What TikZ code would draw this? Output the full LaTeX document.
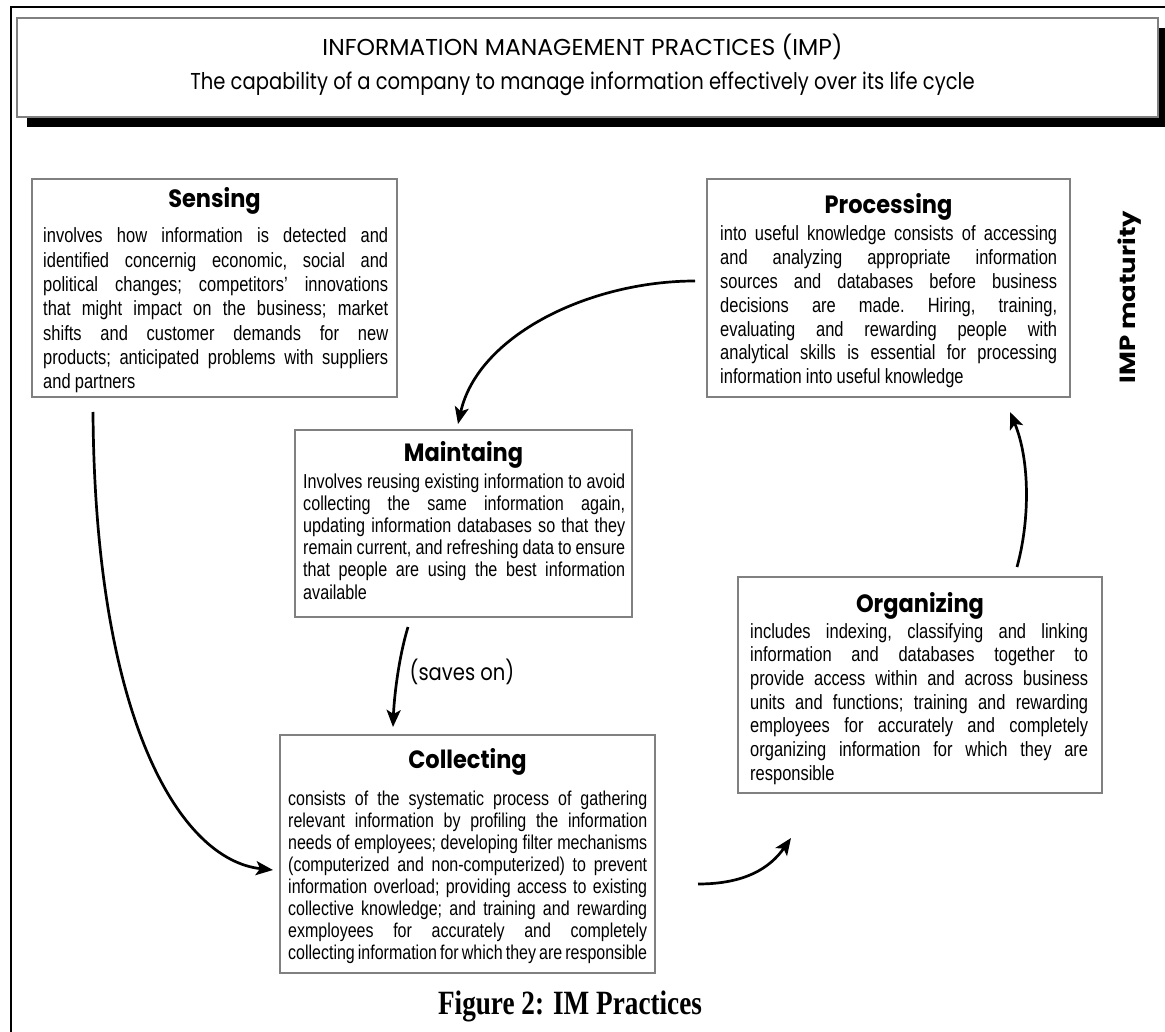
\documentclass[tikz,border=0pt]{standalone}
\usepackage{fontspec}
\usetikzlibrary{arrows.meta,calc,shadows}
\newfontfamily\bodyfont{Liberation Sans}[FakeStretch=0.8]
\newfontfamily\titlefont{Poppins}[FakeStretch=1.02]
\newfontfamily\subfont{Poppins}[FakeStretch=0.85]
\newfontfamily\headfont{Poppins}[FakeStretch=0.9]
\newfontfamily\sidefont{Poppins}[FakeStretch=1.18]
\newfontfamily\capfont{Liberation Serif}[FakeStretch=0.8]
\definecolor{boxgray}{gray}{0.5}

% a justified line, and a final (ragged) line of a paragraph
\newcommand\jline[1]{\hbox to\hsize{\frenchspacing\spaceskip=4.6pt plus 1fil minus 4pt\relax#1}}
\newcommand\lline[1]{\hbox{\frenchspacing\spaceskip=4.2pt\relax#1}}
% body text block: [font size] width, line distance, lines
\newcommand\bodytext[4][20.6]{\vtop{\hsize=#2pt\bodyfont\fontsize{#1pt}{#3pt}\selectfont#4}}

\begin{document}
\begin{tikzpicture}[x=1pt,y=-1pt,
  box/.style={draw=boxgray,line width=1.2pt,fill=white,inner sep=0pt,outer sep=0pt,anchor=north west},
  head/.style={font=\headfont\bfseries\fontsize{25pt}{30pt}\selectfont,anchor=base,inner sep=0pt},
  body/.style={anchor=base west,inner sep=0pt},
  flow/.style={line width=2.7pt,-{Stealth[length=17pt,width=14pt,inset=4pt]}},
]
\useasboundingbox (0,0) rectangle (1165,1032);
\fill[white] (0,0) rectangle (1165,1032);

% page frame
\draw[line width=2.5pt] (11,1032) -- (11,7) -- (1165,7);

% banner with its solid shadow
\node[box, minimum width=1141pt, minimum height=99pt,
      drop shadow={fill=black,opacity=1,shadow xshift=10pt,shadow yshift=-10pt}] (banner) at (17,18) {};
\node[font=\titlefont\fontsize{23pt}{28pt}\selectfont, anchor=base, inner sep=0pt] (title)
  at ($(banner.north)+(-5,38)$) {INFORMATION MANAGEMENT PRACTICES (IMP)};
\node[font=\subfont\fontsize{23pt}{28pt}\selectfont, anchor=base, inner sep=0pt] (subtitle)
  at ($(banner.north)+(-5,72)$) {The capability of a company to manage information effectively over its life cycle};

% practice boxes
\node[box, minimum width=365pt, minimum height=218pt] (sensing) at (32,179) {};
\node[box, minimum width=363pt, minimum height=218pt] (processing) at (707,179) {};
\node[box, minimum width=337pt, minimum height=187pt] (maintaing) at (295,430) {};
\node[box, minimum width=364pt, minimum height=216pt] (organizing) at (738,577) {};
\node[box, minimum width=375pt, minimum height=238pt] (collecting) at (280,735) {};

% Sensing
\node[head] (sensing-head) at ($(sensing.north)+(0,29)$) {Sensing};
\node[body] (sensing-body) at ($(sensing.north west)+(11,64)$) {\bodytext{345}{24.3}{%
  \jline{involves how information is detected and}
  \jline{identified concernig economic, social and}
  \jline{political changes; competitors’ innovations}
  \jline{that might impact on the business; market}
  \jline{shifts and customer demands for new}
  \jline{products; anticipated problems with suppliers}
  \lline{and partners}}};

% Processing
\node[head] (processing-head) at ($(processing.north)+(0,35)$) {Processing};
\node[body] (processing-body) at ($(processing.north west)+(13,62)$) {\bodytext{337}{23.8}{%
  \jline{into useful knowledge consists of accessing}
  \jline{and analyzing appropriate information}
  \jline{sources and databases before business}
  \jline{decisions are made. Hiring, training,}
  \jline{evaluating and rewarding people with}
  \jline{analytical skills is essential for processing}
  \lline{information into useful knowledge}}};

% Maintaing
\node[head] (maintaing-head) at ($(maintaing.north)+(0,31)$) {Maintaing};
\node[body] (maintaing-body) at ($(maintaing.north west)+(8,58)$) {\bodytext[20.2]{322}{22.2}{%
  \jline{Involves reusing existing information to avoid}
  \jline{collecting the same information again,}
  \jline{updating information databases so that they}
  \jline{remain current, and refreshing data to ensure}
  \jline{that people are using the best information}
  \lline{available}}};

% Organizing
\node[head] (organizing-head) at ($(organizing.north)+(0,35)$) {Organizing};
\node[body] (organizing-body) at ($(organizing.north west)+(12,61)$) {\bodytext{338}{23.7}{%
  \jline{includes indexing, classifying and linking}
  \jline{information and databases together to}
  \jline{provide access within and across business}
  \jline{units and functions; training and rewarding}
  \jline{employees for accurately and completely}
  \jline{organizing information for which they are}
  \lline{responsible}}};

% Collecting
\node[head] (collecting-head) at ($(collecting.north)+(0,33)$) {Collecting};
\node[body] (collecting-body) at ($(collecting.north west)+(8,70)$) {\bodytext[20]{359}{22}{%
  \jline{consists of the systematic process of gathering}
  \jline{relevant information by profiling the information}
  \jline{needs of employees; developing filter mechanisms}
  \jline{(computerized and non-computerized) to prevent}
  \jline{information overload; providing access to existing}
  \jline{collective knowledge; and training and rewarding}
  \jline{exmployees for accurately and completely}
  \jline{collecting information for which they are responsible}}};

% side label
\node[font=\sidefont\bfseries\fontsize{22pt}{26pt}\selectfont, rotate=90, anchor=base, inner sep=0pt]
  (maturity) at (1135,297) {IMP maturity};

% flow of the life cycle
\draw[flow] ($(sensing.south west)+(61,15)$) .. controls +(2,308) and +(-93,-10) .. ($(collecting.north west)+(-7,135)$);
\draw[flow] ($(processing.west)+(-12,-7)$) .. controls +(-105,0) and +(20,-89) .. ($(maintaing.north west)+(163,-6)$);
\draw[flow] ($(maintaing.south west)+(113,10)$) .. controls +(-10,33) and +(1,-27) .. ($(collecting.north west)+(113,-8)$);
\node[font=\subfont\fontsize{23pt}{28pt}\selectfont, inner sep=0pt] (saves) at ($(maintaing.south west)+(167,55)$) {(saves on)};
\draw[flow] ($(collecting.south east)+(43,-89)$) .. controls +(47,0) and +(-21,30) .. ($(organizing.south west)+(53,45)$);
\draw[flow] ($(organizing.north west)+(279,-10)$) .. controls +(13,-47) and +(20,48) .. ($(processing.south west)+(303,15)$);

% caption
\node[font=\capfont\bfseries\fontsize{34pt}{40pt}\selectfont, anchor=base, inner sep=0pt] (caption) at (570,1014) {Figure 2: IM Practices};
\end{tikzpicture}
\end{document}
